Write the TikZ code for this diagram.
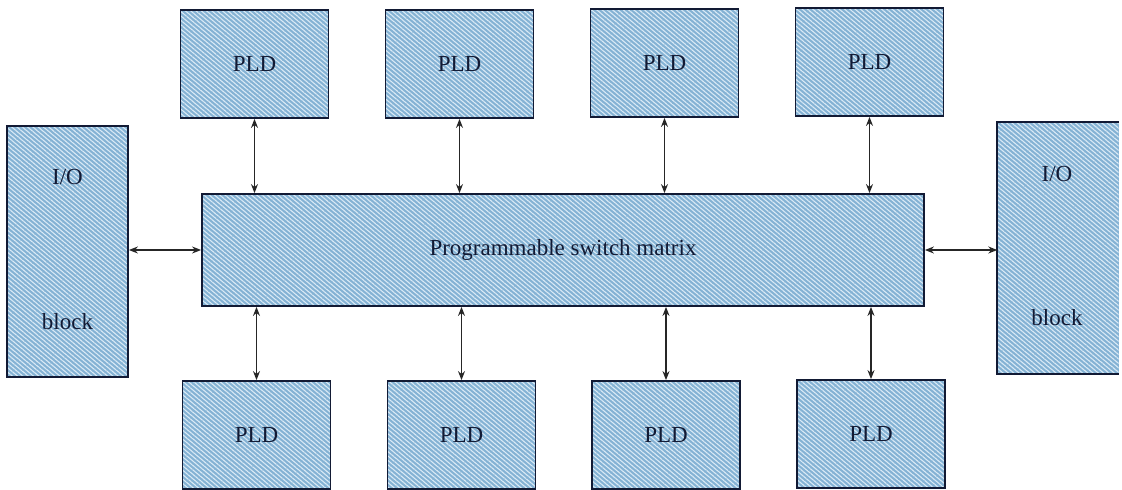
\documentclass[tikz,border=0pt]{standalone}
\usepackage{fontspec}
\setmainfont{Liberation Serif}
\usetikzlibrary{arrows.meta,patterns.meta}
\definecolor{boxfill}{RGB}{132,178,212}
\definecolor{hatch}{RGB}{218,234,246}
\definecolor{edge}{RGB}{18,26,52}
\tikzset{
  hatchfill/.style={preaction={fill=boxfill},
     preaction={pattern={Lines[angle=-40,distance=3.4pt,line width=1.1pt]},pattern color=hatch}},
  blk/.style={hatchfill, draw=edge, line width=1.8pt, inner sep=0pt, font=\fontsize{23}{26}\selectfont, text=edge},
  pld/.style={blk, minimum width=148pt, minimum height=108pt},
  iobox/.style={hatchfill, inner sep=0pt, minimum width=121pt, minimum height=251pt},
  lbl/.style={font=\fontsize{23}{26}\selectfont, text=edge, inner sep=0pt},
  biarrow/.style={{Stealth[length=9pt,width=7pt]}-{Stealth[length=9pt,width=7pt]}, line width=1.4pt, draw=black!85}
}
\begin{document}
\begin{tikzpicture}[x=1pt,y=-1pt]
\useasboundingbox (0,0) rectangle (1122,490);
% switch matrix
\node[blk, minimum width=722pt, minimum height=112pt] (sw) at (563,250) {Programmable switch matrix};
% top PLDs
\node[pld] (t1) at (254.5,64) {PLD};
\node[pld] (t2) at (459.5,64) {PLD};
\node[pld] (t3) at (664.5,63) {PLD};
\node[pld] (t4) at (869.5,62) {PLD};
% bottom PLDs
\node[pld] (b1) at (256.5,435) {PLD};
\node[pld] (b2) at (461.5,435) {PLD};
\node[pld] (b3) at (666,435) {PLD};
\node[pld] (b4) at (871,434) {PLD};
% I/O blocks
\node[iobox, draw=edge, line width=1.8pt] (lio) at (67.5,251.5) {};
\node[lbl] (lio1) at (67.5,177) {I/O};
\node[lbl] (lio2) at (67.5,322) {block};
\node[iobox] (rio) at (1058,248) {};
\draw[draw=edge, line width=1.8pt] (rio.north east) -- (rio.north west) -- (rio.south west) -- (rio.south east);
\node[lbl] (rio1) at (1057,174) {I/O};
\node[lbl] (rio2) at (1057,318) {block};
% vertical connectors
\foreach \n in {t1,t2,t3,t4}{\draw[biarrow] (\n.south) -- (\n.south |- sw.north);}
\foreach \n in {b1,b2,b3,b4}{\draw[biarrow] (\n.north) -- (\n.north |- sw.south);}
% horizontal connectors
\draw[biarrow] (lio.east |- sw.west) -- (sw.west);
\draw[biarrow] (sw.east) -- (rio.west |- sw.east);
\end{tikzpicture}
\end{document}
